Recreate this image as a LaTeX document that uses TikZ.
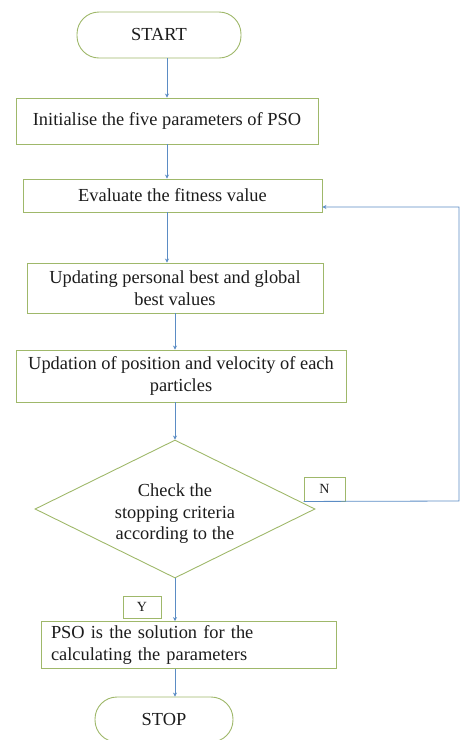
\documentclass[tikz,border=0pt]{standalone}
\usepackage{fontspec}
\setmainfont{Liberation Serif}
\usepackage{tikz}
\usetikzlibrary{arrows.meta,shapes.geometric}
\definecolor{fcgreen}{HTML}{9FB86A}
\definecolor{fcblue}{HTML}{5B8CC4}
\definecolor{fcink}{HTML}{1C1C1C}

\tikzset{
  fctext/.style={font=\fontsize{18.4}{21.5}\selectfont, text=fcink},
  procbox/.style={fctext, draw=fcgreen, line width=0.9pt, fill=white, rectangle, align=center, inner sep=0pt},
  termbox/.style={procbox, rounded corners=22pt},
  decbox/.style={fctext, draw=fcgreen, line width=0.9pt, diamond, aspect=2, align=center, inner sep=0pt},
  tagbox/.style={font=\fontsize{14}{16}\selectfont, text=fcink, draw=fcgreen, line width=0.9pt, inner sep=0pt},
  flow/.style={draw=fcblue, line width=0.8pt, -{Stealth[length=4pt,width=4pt]}}
}

\begin{document}
\begin{tikzpicture}[x=1pt,y=-1pt]
      \useasboundingbox (0,0) rectangle (461,740);
      % terminals, steps and the test
      \node[termbox, minimum width=164pt, minimum height=46pt] (start) at (159,35) {\raisebox{1.5pt}{START}};
      \node[procbox, minimum width=302pt, minimum height=46pt] (init) at (167,121) {\raisebox{3pt}{Initialise the five parameters of PSO}};
      \node[procbox, minimum width=299pt, minimum height=33pt] (eval) at (172.5,195.5) {Evaluate the fitness value};
      \node[procbox, minimum width=296pt, minimum height=50pt] (upd) at (175,288) {Updating personal best and global\\best values};
      \node[procbox, minimum width=330pt, minimum height=52pt] (pos) at (181,376) {Updation of position and velocity of each\\particles};
      \node[decbox, minimum width=280pt, minimum height=138pt,
            label={[fctext, align=center, yshift=-5pt]center:Check the\\stopping criteria\\according to the}] (check) at (175,509) {};
      \node[procbox, minimum width=295pt, minimum height=47pt, align=left, text width=275pt] (sol) at (188.5,645) {PSO is the solution for the\\calculating the parameters};
      \node[termbox, minimum width=138pt, minimum height=45pt] (stop) at (164,719.5) {STOP};
      \node[tagbox, minimum width=41pt, minimum height=24pt] (nbox) at (324.5,489) {N};
      \node[tagbox, minimum width=38pt, minimum height=22pt] (ybox) at (142,607) {Y};
      \coordinate (back) at (459,501);

      % connectors
      \draw[flow] (init.north |- start.south) -- (init.north);
      \draw[flow] (init.south) -- (init.south |- eval.north);
      \draw[flow] (eval.south -| init.south) -- (init.south |- upd.north);
      \draw[flow] (upd.south) -- (upd.south |- pos.north);
      \draw[flow] (check.north |- pos.south) -- (check.north);
      \draw[flow] (check.south) -- (check.south |- sol.north);
      \draw[flow] (sol.south -| check.south) -- (check.south |- stop.north);
      \draw[flow] (nbox.south west) -- (back) |- ([yshift=-11.5pt]eval.east);
    \end{tikzpicture}
\end{document}
